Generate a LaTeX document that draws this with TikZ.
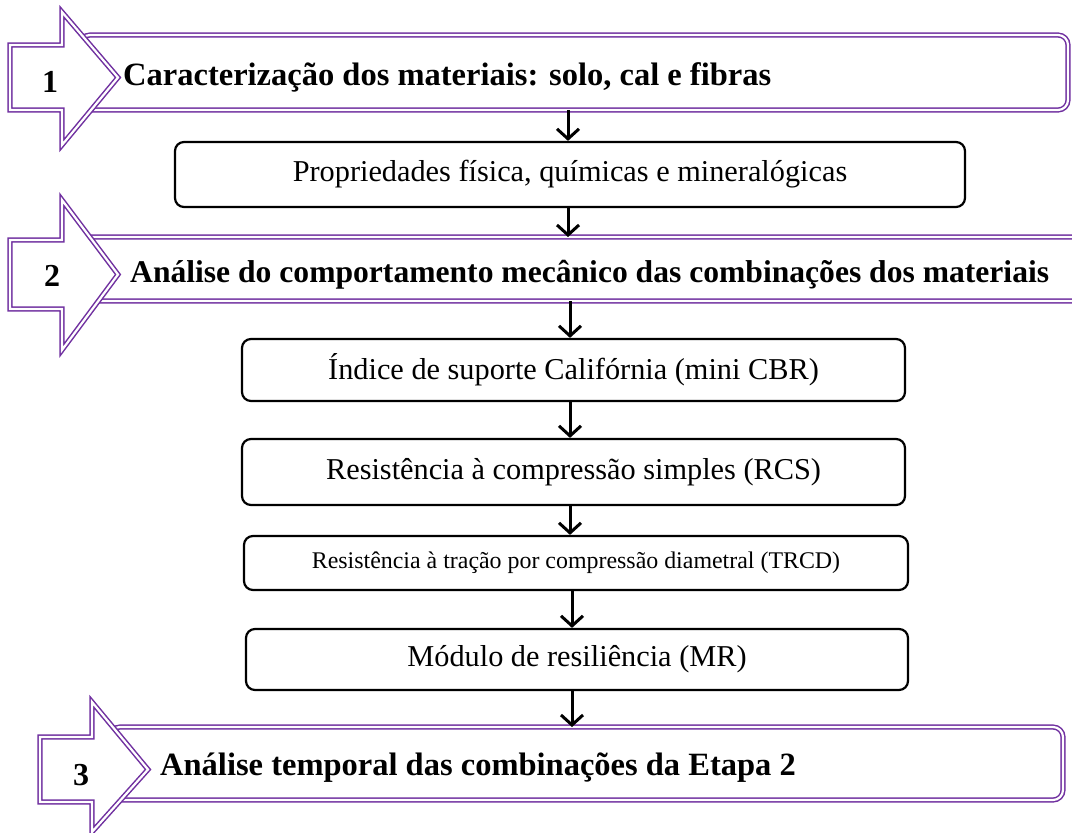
\documentclass[tikz,border=0pt]{standalone}
\usepackage{fontspec}
\setmainfont{Liberation Serif}
\usepackage{xcolor}
\usepackage{tikz}
\usetikzlibrary{arrows.meta}
\usetikzlibrary{positioning}
\definecolor{violeta}{HTML}{7030A0}
\tikzstyle{faixa}=[
        draw=violeta,
        line width=1.5pt,
        double=white,
        double distance=2.2pt,
        fill=white
]
\tikzstyle{titulo}=[anchor=west,inner sep=0pt,font=\fontsize{32.5}{36}\selectfont\bfseries]
\tikzstyle{numero}=[inner sep=0pt,font=\fontsize{32}{36}\selectfont\bfseries]
\tikzstyle{caixa}=[rectangle,draw,line width=2.2pt,rounded corners=9pt,
minimum height=62pt,font=\fontsize{30.3}{34}\selectfont]
\tikzstyle{suite}=[-{Straight Barb[length=10pt,width=22pt,line width=3pt]},line width=3pt]

\begin{document}
\begin{tikzpicture}[x=1pt,y=-1pt]
\useasboundingbox (0,0) rectangle (1072,833);
\clip (0,0) rectangle (1072,833);
%Etapa 1
\draw[faixa,rounded corners=10pt] (80,35) rectangle (1068,110);
\draw[faixa] (10,45) -- (62,45) -- (62,12) -- (118,77.5) -- (62,145) -- (62,110) -- (10,110) -- cycle;
\node[numero] (n1) at (50,82) {1};
\node[titulo] (t1) at (123,77) {Caracterização dos materiais: solo, cal e fibras};
%Etapa 2
\draw[faixa,rounded corners=10pt] (80,237) rectangle (1090,301);
\draw[faixa] (10,240) -- (62,240) -- (62,200) -- (118,274.5) -- (62,350) -- (62,309) -- (10,309) -- cycle;
\node[numero] (n2) at (52,276) {2};
\node[titulo,font=\fontsize{31.6}{36}\selectfont\bfseries] (t2) at (130,275) {Análise do comportamento mecânico das combinações dos materiais};
%Etapa 3
\draw[faixa,rounded corners=10pt] (110,727) rectangle (1063,800);
\draw[faixa] (40,737) -- (92,737) -- (92,702) -- (148,769.5) -- (92,832) -- (92,802) -- (40,802) -- cycle;
\node[numero] (n3) at (81,775) {3};
\node[titulo] (t3) at (160,768) {Análise temporal das combinações da Etapa 2};
%Caixas
\node[caixa,minimum width=790pt,minimum height=65pt] (prop) at (570,174.5) {Propriedades física, químicas e mineralógicas};
\node[caixa,minimum width=663pt] (cbr) at (573.5,370) {Índice de suporte Califórnia (mini CBR)};
\node[caixa,minimum width=663pt,minimum height=66pt] (rcs) at (573.5,472) {Resistência à compressão simples (RCS)};
\node[caixa,minimum width=664pt,minimum height=54pt,font=\fontsize{23.9}{27}\selectfont] (trcd) at (576,563) {Resistência à tração por compressão diametral (TRCD)};
\node[caixa,minimum width=662pt,minimum height=61pt] (mr) at (577,659.5) {Módulo de resiliência (MR)};
%Setas
\coordinate (e1) at (568,110);
\coordinate (e2a) at (568,237);
\coordinate (e2b) at (570,301);
\coordinate (e3) at (572,727);
\draw[suite] (e1) -- (prop.north -| e1);
\draw[suite] (prop.south -| e2a) -- (e2a);
\draw[suite] (e2b) -- (cbr.north -| e2b);
\draw[suite] (cbr.south -| e2b) -- (rcs.north -| e2b);
\draw[suite] (rcs.south -| e2b) -- (trcd.north -| e2b);
\draw[suite] (trcd.south -| e3) -- (mr.north -| e3);
\draw[suite] (mr.south -| e3) -- (e3);
\end{tikzpicture}
\end{document}
